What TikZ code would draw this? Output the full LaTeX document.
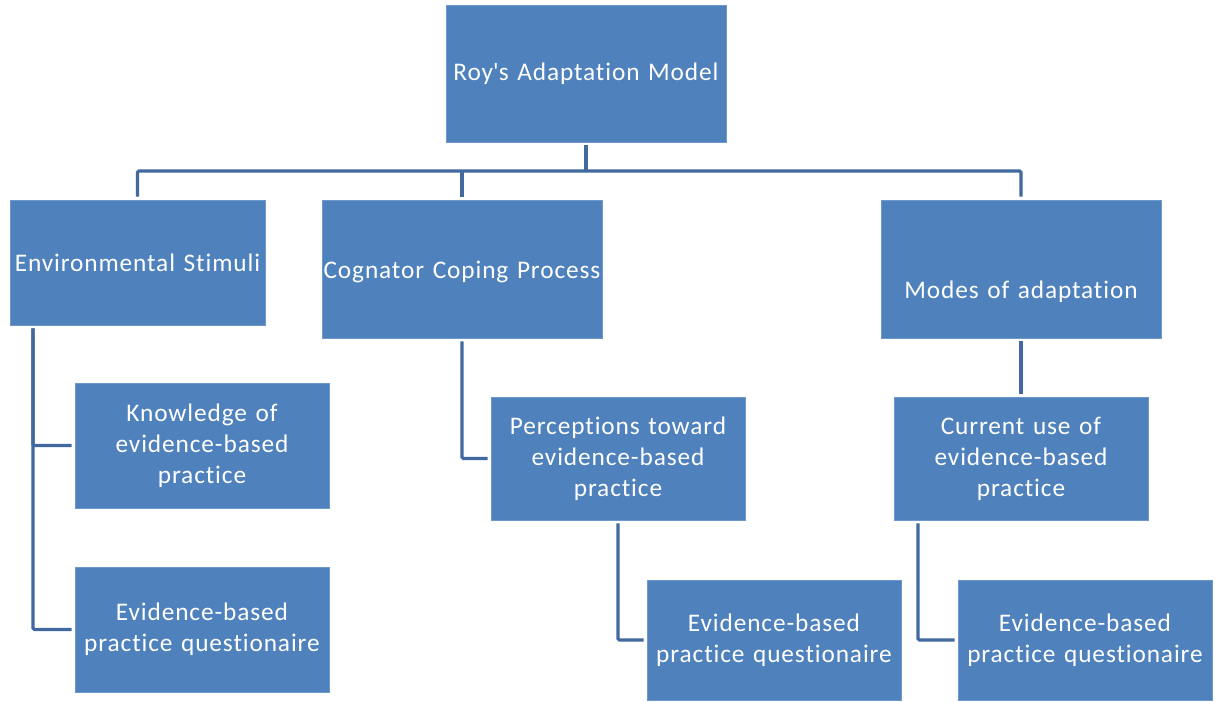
\documentclass[tikz,border=0pt]{standalone}
\usepackage{fontspec}
\setmainfont{Carlito}[Ligatures=NoCommon,LetterSpace=3.5,WordSpace=1.3]
\usepackage{tikz}
\definecolor{boxblue}{HTML}{4F81BD}
\definecolor{boxedge}{HTML}{6E98CC}
\definecolor{linkblue}{HTML}{41689F}
\tikzset{
  box/.style={draw=boxedge,fill=boxblue,line width=0.5pt,text=white,align=center,
    inner sep=0pt,outer sep=2.5pt,font=\fontsize{19}{23.25}\selectfont},
  wide/.style={box,minimum width=210pt,minimum height=103.5pt},
  narrow/.style={box,minimum width=190.5pt,minimum height=93pt},
  link/.style={draw=linkblue,line width=2.4pt,rounded corners=1pt}
}
\begin{document}
\begin{tikzpicture}[x=0.75pt,y=-0.75pt]
  \useasboundingbox (0,0) rectangle (1215,701);
  % top of the tree
  \node[wide,minimum height=102.75pt] (roy) at (586,73.5) {Roy\textquotesingle s Adaptation Model};
  \node[box,minimum width=191.25pt,minimum height=93.75pt] (env) at (137.5,262.5) {Environmental Stimuli};
  \node[wide,text height=59pt,text depth=44.5pt] (cog) at (462,269) {Cognator Coping Process};
  \node[wide,text height=73.5pt,text depth=30pt] (modes) at (1021,269) {Modes of adaptation};
  % second row
  \node[narrow,minimum height=93.75pt] (know) at (202,445.5) {Knowledge of\\evidence-based\\practice};
  \node[narrow,minimum height=93.75pt] (evqa) at (202,629.5) {Evidence-based\\practice questionaire};
  \node[narrow,minimum height=92.25pt] (perc) at (618,458.5) {Perceptions toward\\evidence-based\\practice};
  \node[narrow,minimum height=92.25pt] (cur) at (1021,458.5) {Current use of\\evidence-based\\practice};
  \node[narrow,minimum height=90pt] (evqb) at (774,640) {Evidence-based\\practice questionaire};
  \node[narrow,minimum height=90pt] (evqc) at (1085,640) {Evidence-based\\practice questionaire};
  % connectors
  \coordinate (bar) at (586,171);
  \coordinate (lspine) at (33,0);
  \coordinate (rspine) at (918,0);
  \draw[link] (roy.south) -- (roy.south |- bar);
  \draw[link] (env.north) -- (env.north |- bar) -- (modes.north |- bar) -- (modes.north);
  \draw[link] (cog.north) -- (cog.north |- bar);
  \draw[link] (env.south -| lspine) |- (know.west);
  \draw[link] (env.south -| lspine) |- (evqa.west);
  \draw[link] (cog.south) |- (perc.west);
  \draw[link] (perc.south) |- (evqb.west);
  \draw[link] (modes.south) -- (cur.north);
  \draw[link] (cur.south -| rspine) |- (evqc.west);
\end{tikzpicture}
\end{document}
